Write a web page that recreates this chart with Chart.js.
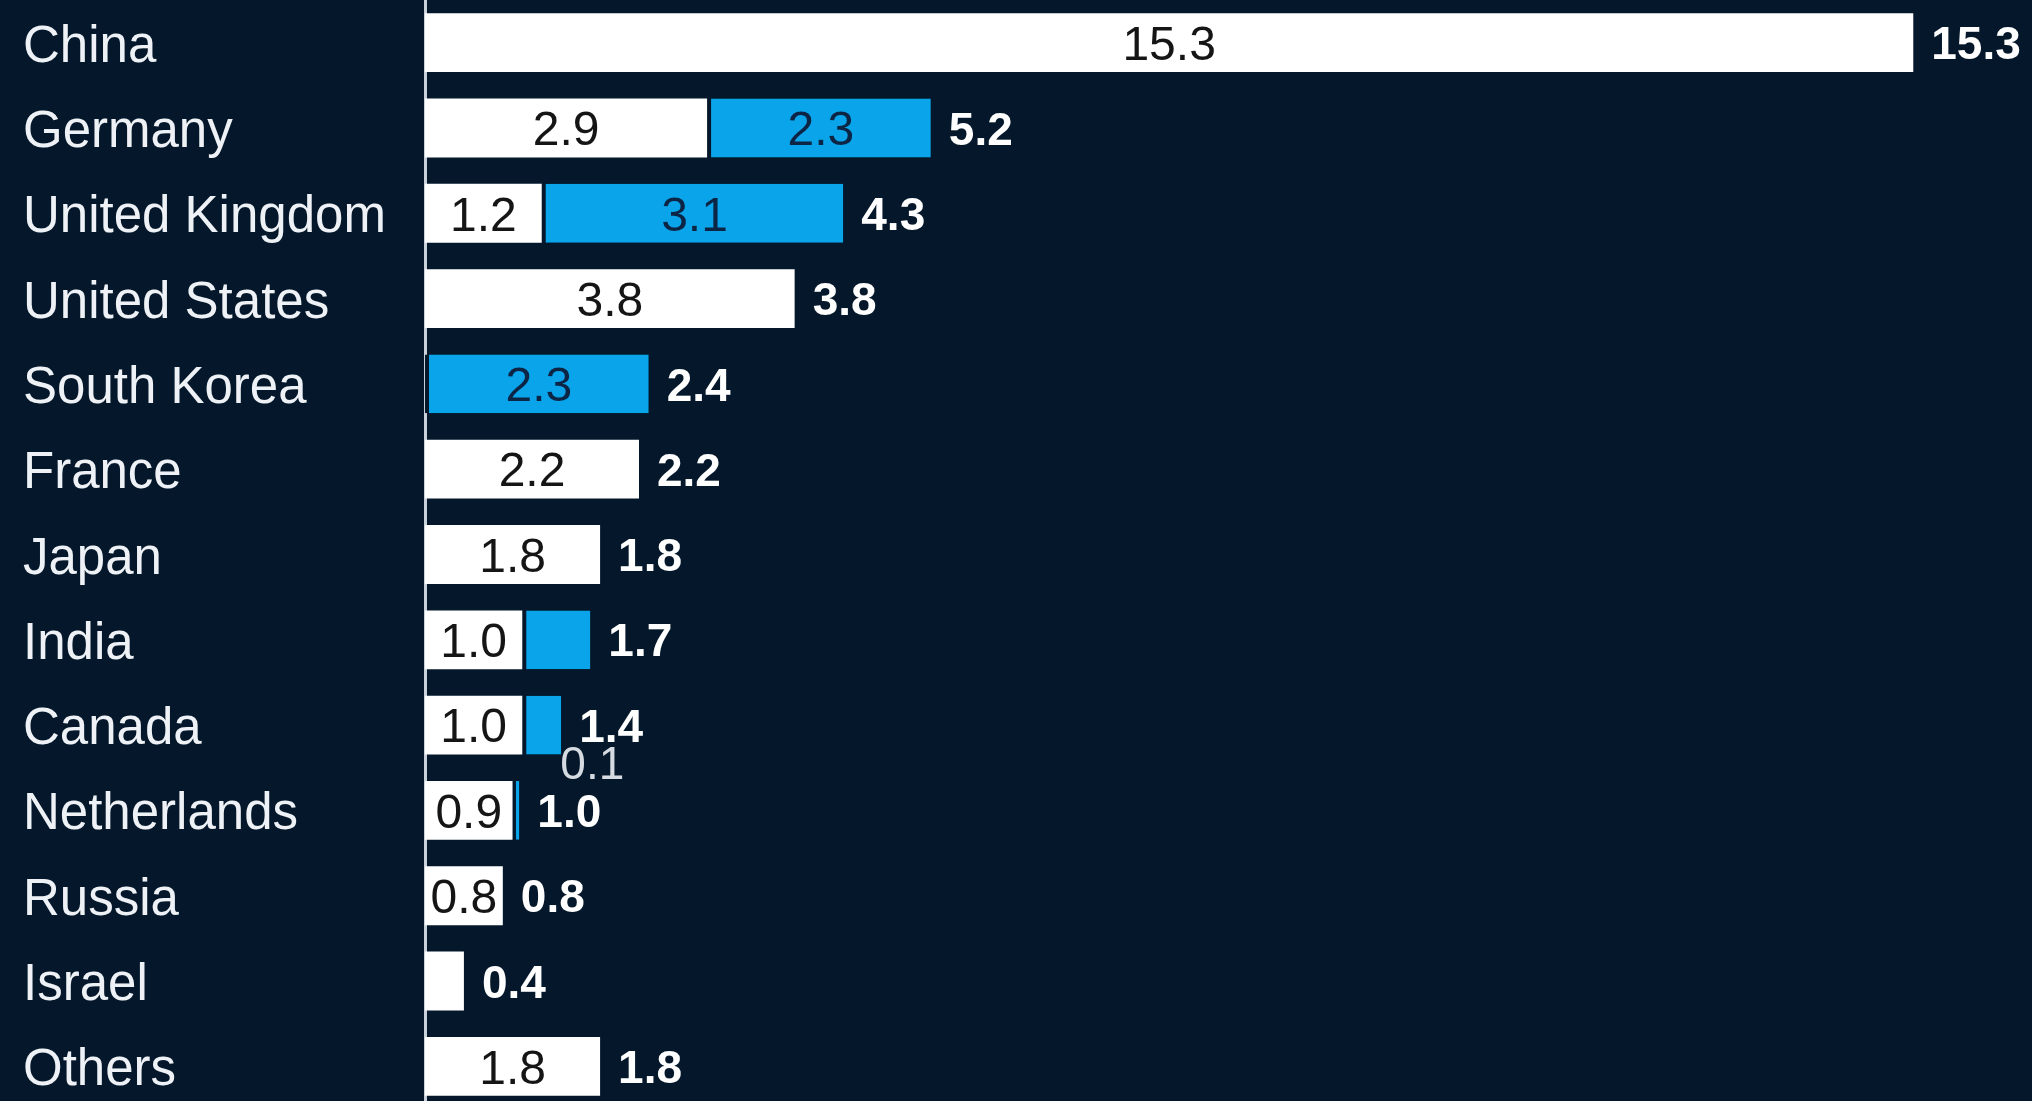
<!DOCTYPE html>
<html>
<head>
<meta charset="utf-8">
<script src="https://cdn.jsdelivr.net/npm/chart.js@4"></script>
<style>
  html, body { margin: 0; padding: 0; background: #05182b; overflow: hidden; }
  #wrap { width: 2032px; height: 1109px; }
</style>
</head>
<body>
<div id="wrap"><canvas id="c" width="2032" height="1109"></canvas></div>
<script>
const categories = ["China", "Germany", "United Kingdom", "United States", "South Korea", "France", "Japan", "India", "Canada", "Netherlands", "Russia", "Israel", "Others"];
const whiteValues = [15.3, 2.9, 1.2, 3.8, 0, 2.2, 1.8, 1.0, 1.0, 0.9, 0.8, 0.4, 1.8];
const blueValues  = [0, 2.3, 3.1, 0, 2.3, 0, 0, 0.7, 0.4, 0.07, 0, 0, 0];
const totals      = ["15.3", "5.2", "4.3", "3.8", "2.4", "2.2", "1.8", "1.7", "1.4", "1.0", "0.8", "0.4", "1.8"];

const BG = '#05182b';
const BLUE = '#0aa4ea';
const FONT = '"Liberation Sans", Arial, sans-serif';

const labelPlugin = {
  id: 'barLabels',
  afterDatasetsDraw(chart) {
    const ctx = chart.ctx;
    const m0 = chart.getDatasetMeta(0);
    const m1 = chart.getDatasetMeta(1);
    ctx.save();
    ctx.textBaseline = 'middle';
    categories.forEach((c, i) => {
      const b0 = m0.data[i];
      const b1 = m1.data[i];
      const w = whiteValues[i];
      const bl = blueValues[i];
      if (w >= 0.8) {
        ctx.font = '48px ' + FONT;
        ctx.fillStyle = '#151515';
        ctx.textAlign = 'center';
        ctx.fillText(w.toFixed(1), (b0.base + b0.x) / 2, b0.y + 4);
      }
      if (bl >= 1) {
        ctx.font = '48px ' + FONT;
        ctx.fillStyle = '#0c2545';
        ctx.textAlign = 'center';
        ctx.fillText(bl.toFixed(1), (b1.base + b1.x) / 2 + 2, b1.y + 4);
      } else if (bl > 0 && bl < 0.2) {
        ctx.font = '46px ' + FONT;
        ctx.fillStyle = '#d6dbe1';
        ctx.textAlign = 'left';
        ctx.fillText(bl.toFixed(1), b1.x + 41, b1.y - 44);
      }
      const end = Math.max(b0.x, b1.x);
      ctx.font = 'bold 46px ' + FONT;
      ctx.fillStyle = '#ffffff';
      ctx.textAlign = 'left';
      ctx.fillText(totals[i], end + 18, b0.y + 4);
    });
    ctx.restore();
  }
};

new Chart(document.getElementById('c'), {
  type: 'bar',
  data: {
    labels: categories,
    datasets: [
      {
        data: whiteValues,
        backgroundColor: '#ffffff',
        borderWidth: 0,
        barPercentage: 0.69,
        categoryPercentage: 1.0
      },
      {
        data: blueValues,
        backgroundColor: BLUE,
        borderColor: BG,
        borderWidth: { left: 4, right: 0, top: 0, bottom: 0 },
        borderSkipped: false,
        barPercentage: 0.69,
        categoryPercentage: 1.0
      }
    ]
  },
  options: {
    indexAxis: 'y',
    responsive: false,
    animation: false,
    devicePixelRatio: 1,
    layout: { padding: { left: 23, right: 2, top: 0, bottom: 0 } },
    plugins: { legend: { display: false }, tooltip: { enabled: false } },
    scales: {
      x: {
        stacked: true,
        display: false,
        min: 0,
        max: 16.5
      },
      y: {
        stacked: true,
        grid: { display: false },
        border: { display: true, color: '#c9d1da', width: 3 },
        ticks: {
          color: '#eef2f6',
          font: { family: FONT, size: 51 },
          crossAlign: 'far',
          autoSkip: false,
          padding: 0,
          labelOffset: 5
        },
        afterFit(scale) {
          scale.width = 402;
          scale.paddingTop = 0;
          scale.paddingBottom = 0;
        }
      }
    }
  },
  plugins: [labelPlugin, {
    id: 'bg',
    beforeDraw(chart) {
      const ctx = chart.ctx;
      ctx.save();
      ctx.fillStyle = BG;
      ctx.fillRect(0, 0, chart.width, chart.height);
      ctx.restore();
    }
  }]
});
</script>
</body>
</html>
